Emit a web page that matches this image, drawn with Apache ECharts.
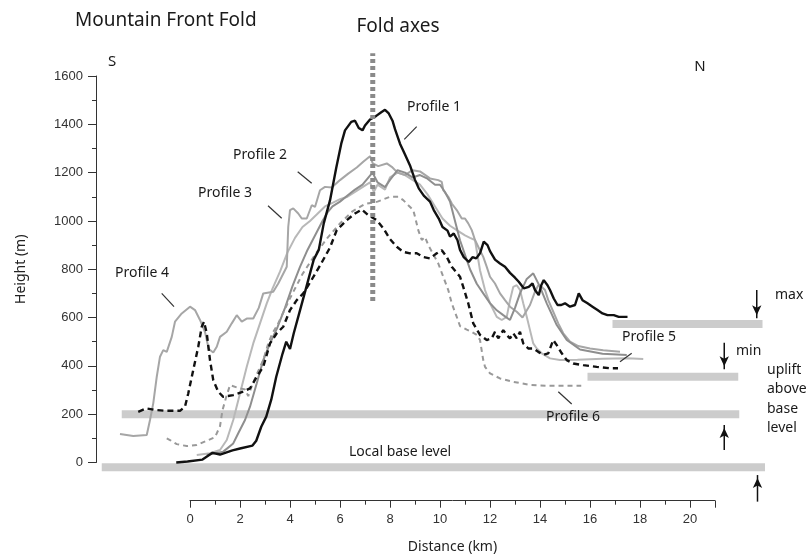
<!DOCTYPE html>
<html><head><meta charset="utf-8">
<script src="https://cdn.jsdelivr.net/npm/echarts@6/dist/echarts.min.js"></script>
<style>html,body{margin:0;padding:0;background:#fff}#c{width:806px;height:556px}</style>
</head><body><div id="c"></div>
<script>
// ---- data: [distance km, height m] ----
const profile1 = [[-0.55,0],[-0.1,4],[0.5,12],[0.9,40],[1.2,33],[1.7,50],[2.0,58],[2.5,70],[2.65,90],[2.85,148],[3.05,190],[3.25,260],[3.45,355],[3.7,450],[3.85,500],[4.0,470],[4.15,535],[4.4,630],[4.65,725],[4.95,840],[5.15,880],[5.35,990],[5.6,1085],[5.85,1220],[6.05,1320],[6.2,1375],[6.45,1410],[6.6,1415],[6.75,1385],[6.9,1375],[7.0,1395],[7.2,1420],[7.45,1435],[7.65,1450],[7.8,1460],[7.95,1445],[8.1,1415],[8.2,1380],[8.4,1320],[8.6,1275],[8.8,1230],[9.0,1170],[9.15,1135],[9.35,1105],[9.6,1080],[9.75,1045],[9.95,1010],[10.1,975],[10.3,960],[10.4,935],[10.55,948],[10.7,920],[10.8,880],[10.95,850],[11.15,830],[11.3,850],[11.45,845],[11.6,866],[11.75,914],[11.9,900],[12.0,875],[12.2,840],[12.4,824],[12.6,810],[12.8,785],[13.0,765],[13.15,748],[13.35,721],[13.55,727],[13.7,741],[13.8,714],[13.95,693],[14.05,734],[14.15,755],[14.3,734],[14.4,714],[14.55,679],[14.7,652],[14.85,652],[15.0,659],[15.2,645],[15.4,652],[15.55,700],[15.7,672],[15.9,659],[16.1,645],[16.3,631],[16.5,617],[16.7,610],[16.95,610],[17.15,603],[17.5,603]];
const profile2 = [[0.67,31],[1.33,45],[1.73,79],[1.93,121],[2.2,176],[2.4,231],[2.67,328],[2.93,424],[3.2,493],[3.5,560],[3.8,640],[4.1,730],[4.4,810],[4.7,880],[5.0,940],[5.3,1000],[5.5,1035],[5.7,1060],[6.0,1080],[6.3,1105],[6.6,1130],[6.9,1150],[7.1,1175],[7.3,1200],[7.5,1160],[7.8,1140],[8.0,1170],[8.3,1210],[8.6,1200],[8.9,1180],[9.2,1190],[9.5,1175],[9.8,1150],[10.0,1150],[10.2,1120],[10.4,1080],[10.6,1000],[10.8,920],[11.0,860],[11.2,800],[11.47,740],[11.73,700],[12.0,660],[12.27,630],[12.53,610],[12.8,590],[13.0,640],[13.2,700],[13.47,760],[13.73,783],[14.0,727],[14.27,659],[14.67,569],[15.07,507],[15.6,468],[16.5,450],[17.47,445]];
const profile3 = [[0.27,31],[0.8,38],[1.2,52],[1.47,93],[1.73,176],[2.0,286],[2.27,396],[2.53,493],[2.8,576],[3.07,659],[3.3,720],[3.6,790],[3.9,870],[4.2,930],[4.5,975],[4.8,1000],[5.1,1030],[5.4,1060],[5.7,1075],[6.0,1090],[6.3,1100],[6.6,1120],[6.9,1140],[7.2,1160],[7.35,1120],[7.5,1150],[7.8,1130],[8.0,1180],[8.3,1200],[8.6,1190],[8.9,1170],[9.2,1150],[9.5,1110],[9.8,1060],[10.1,1010],[10.4,980],[10.7,960],[11.0,940],[11.2,930],[11.4,921],[11.6,796],[11.8,714],[12.0,659],[12.27,603],[12.47,590],[12.67,603],[12.8,672],[12.93,727],[13.07,734],[13.2,714],[13.33,659],[13.47,603],[13.6,548],[13.73,493],[13.87,472],[14.07,452],[14.4,431],[14.8,424],[15.07,424],[15.5,425],[16.5,430],[17.5,432],[18.13,428]];
const profile4 = [[-2.8,118],[-2.27,110],[-1.73,114],[-1.6,176],[-1.47,245],[-1.33,355],[-1.2,438],[-1.07,465],[-0.93,458],[-0.73,520],[-0.6,583],[-0.33,617],[0,645],[0.2,631],[0.4,590],[0.6,540],[0.75,470],[0.93,455],[1.07,479],[1.2,520],[1.47,541],[1.67,576],[1.87,610],[2.07,583],[2.27,596],[2.53,596],[2.75,640],[2.93,700],[3.33,707],[3.53,741],[3.8,796],[3.87,810],[3.93,976],[4.0,1045],[4.13,1052],[4.33,1031],[4.47,1010],[4.67,1010],[4.87,1065],[5.0,1058],[5.2,1127],[5.4,1141],[5.67,1138],[6.0,1169],[6.33,1196],[6.67,1221],[6.93,1245],[7.2,1268],[7.31,1238],[7.53,1227],[7.87,1238],[8.07,1224],[8.3,1200],[8.6,1190],[8.9,1210],[9.2,1205],[9.6,1176],[9.93,1169],[10.07,1162],[10.13,1127],[10.33,1100],[10.47,1072],[10.67,1045],[10.87,1010],[11.0,1010],[11.13,990],[11.27,962],[11.4,921],[11.53,893],[11.73,851],[11.87,810],[12.0,769],[12.2,741],[12.4,700],[12.6,672],[12.8,645],[13.07,624],[13.3,600],[13.6,652],[13.8,707],[13.93,734],[14.07,727],[14.2,714],[14.33,672],[14.53,624],[14.73,576],[14.93,535],[15.2,500],[15.53,482],[16.0,472],[16.53,465],[17.2,458]];
const profile5 = [[-2.07,210],[-1.75,224],[-1.35,217],[-0.95,214],[-0.4,214],[-0.2,231],[-0.07,286],[0.13,383],[0.33,479],[0.47,562],[0.56,583],[0.67,535],[0.8,424],[0.93,341],[1.13,293],[1.33,272],[1.73,279],[2.13,293],[2.4,307],[2.67,355],[2.93,396],[3.2,493],[3.47,535],[3.73,562],[4.0,631],[4.27,672],[4.53,700],[4.8,745],[5.2,815],[5.6,890],[5.87,962],[6.27,1003],[6.6,1031],[6.87,1047],[7.13,1024],[7.47,1003],[7.73,970],[8.0,925],[8.27,893],[8.53,872],[8.8,866],[9.07,866],[9.33,851],[9.6,845],[9.87,866],[10.07,879],[10.27,851],[10.47,810],[10.8,769],[10.93,727],[11.13,659],[11.33,576],[11.6,528],[11.87,507],[12.07,514],[12.2,541],[12.33,514],[12.53,548],[12.67,528],[12.8,514],[12.93,535],[13.07,514],[13.2,541],[13.33,493],[13.53,472],[13.73,472],[13.93,458],[14.13,445],[14.33,452],[14.53,507],[14.67,486],[14.87,452],[15.07,424],[15.33,410],[15.73,403],[16.27,396],[16.8,390],[17.12,390]];
const profile6 = [[-0.93,100],[-0.8,93],[-0.53,76],[-0.13,68],[0.27,72],[0.67,90],[1.0,105],[1.2,150],[1.3,217],[1.45,272],[1.6,320],[1.9,310],[2.2,302],[2.33,275],[2.45,310],[2.67,365],[2.93,424],[3.13,493],[3.3,535],[3.5,570],[4.0,680],[4.5,780],[5.0,860],[5.5,930],[6.0,990],[6.5,1040],[7.0,1070],[7.5,1080],[8.0,1100],[8.33,1100],[8.53,1086],[8.73,1065],[8.93,1045],[9.0,1017],[9.13,962],[9.27,921],[9.4,934],[9.53,900],[9.93,824],[10.13,769],[10.33,714],[10.47,659],[10.67,603],[10.8,565],[11.07,550],[11.27,541],[11.47,528],[11.6,507],[11.73,424],[11.8,396],[12.0,369],[12.4,348],[12.93,334],[13.6,321],[14.27,318],[15.07,318],[15.65,318]];
const foldAxis = [[7.31,669],[7.31,1694]];
const baseLevelBar = [[-3.53,-20],[23.0,-20]];
const bar200 = [[-2.73,200],[21.97,200]];
const minBar = [[15.9,355],[21.93,355]];
const maxBar = [[16.9,573],[22.9,573]];
// arrows: [start, end] (head at end)
const arrows = [ [[22.67,714],[22.67,597]], [[21.37,496],[21.37,386]], [[21.37,52],[21.37,155]], [[22.7,-162],[22.7,-52]] ];
const yTicks = {min:0, max:1600, interval:200};
const xTicks = {min:0, max:21, interval:2};

const chart = echarts.init(document.getElementById('c'), null, {renderer:'canvas'});
const lbl = 'Noto Sans, DejaVu Sans, sans-serif';
function prof(name, data, color, width, type, z){
  return {name, type:'line', data, xAxisIndex:0, yAxisIndex:0, symbol:'none', showSymbol:false, clip:false,
    lineStyle:{color, width, type}, z: z||3, silent:true};
}
function bar(data){
  return {type:'line', data, xAxisIndex:0, yAxisIndex:0, symbol:'none', clip:false, silent:true,
    lineStyle:{color:'#cccccc', width:8, cap:'butt'}, z:1};
}
function arrow(a){
  const down = a[1][1] < a[0][1];
  return {type:'line', xAxisIndex:0, yAxisIndex:0, clip:false, silent:true, z:9,
    symbol:'none', showSymbol:true, showAllSymbol:true,
    lineStyle:{color:'#111', width:1.5}, itemStyle:{color:'#111'},
    data:[{value:a[0], symbol:'none'},
          {value:a[1], symbol:'arrow', symbolSize:[7,10], symbolRotate: down ? 180 : 0, symbolOffset:[0, down ? '-30%' : '30%']}]};
}
const option = {
  animation:false,
  backgroundColor:'#fff',
  grid:[
    {left:96, right:16, top:76, bottom:93.5},
    {left:190, width:525, top:450, bottom:55.3}
  ],
  xAxis:[
    {type:'value', gridIndex:0, min:-3.76, max:24, show:false},
    {type:'value', gridIndex:1, min:xTicks.min, max:xTicks.max, interval:xTicks.interval,
      axisLine:{show:true, onZero:false, lineStyle:{color:'#333', width:1}},
      axisTick:{show:true, length:7, lineStyle:{color:'#333'}},
      minorTick:{show:true, splitNumber:2, length:4, lineStyle:{color:'#333'}},
      splitLine:{show:false},
      axisLabel:{fontSize:13, color:'#333', margin:12, showMaxLabel:false, formatter:v=>String(v), fontFamily:'Liberation Sans, Arial, sans-serif'},
      name:'Distance (km)', nameLocation:'middle', nameGap:39,
      nameTextStyle:{fontSize:14, color:'#222', fontFamily:lbl}}
  ],
  yAxis:[
    {type:'value', gridIndex:0, min:yTicks.min, max:yTicks.max, interval:yTicks.interval,
      axisLine:{show:true, onZero:false, lineStyle:{color:'#333', width:1}},
      axisTick:{show:true, length:8, lineStyle:{color:'#333'}},
      minorTick:{show:true, splitNumber:2, length:4, lineStyle:{color:'#333'}},
      splitLine:{show:false},
      axisLabel:{fontSize:13, color:'#333', margin:13, formatter:v=>String(v), fontFamily:'Liberation Sans, Arial, sans-serif'},
      name:'Height (m)', nameLocation:'middle', nameGap:68, nameRotate:90,
      nameTextStyle:{fontSize:14, color:'#222', fontFamily:lbl}},
    {type:'value', gridIndex:1, show:false, min:0, max:1}
  ],
  series:[
    bar(baseLevelBar), bar(bar200), bar(minBar), bar(maxBar),
    prof('Profile 3', profile3, '#b8b8b8', 2, 'solid', 3),
    prof('Profile 4', profile4, '#a6a6a6', 2, 'solid', 3),
    prof('Profile 2', profile2, '#8e8e8e', 2, 'solid', 4),
    prof('Profile 6', profile6, '#999999', 2, [5,4], 4),
    prof('Profile 5', profile5, '#111111', 2.4, [6,4], 5),
    prof('Profile 1', profile1, '#111111', 2.4, 'solid', 6),
    {type:'line', data:foldAxis, symbol:'none', clip:false, silent:true, z:8,
      lineStyle:{color:'#8a8a8a', width:5, type:[4,3], cap:'butt'}}
  ].concat(arrows.map(arrow))
};
chart.setOption(option);

// text annotations
const T = (text, x, y, size, align) => ({type:'text', x, y, silent:true, z:100,
  style:{text, fill:'#1a1a1a', font: size+'px '+lbl, align: align||'left', verticalAlign:'middle'}});
const L = (x1,y1,x2,y2) => ({type:'line', silent:true, z:100, shape:{x1,y1,x2,y2}, style:{stroke:'#333', lineWidth:1.2}});
chart.setOption({graphic:[
  T('Mountain Front Fold', 75, 21, 19),
  T('Fold axes', 398, 27, 19, 'center'),
  T('S', 112, 62, 15, 'center'),
  T('N', 700, 67, 15, 'center'),
  T('Profile 1', 407, 107, 14), L(416.7,126.7,404.3,139.3),
  T('Profile 2', 233, 155, 14), L(297.7,171.7,311.7,183.3),
  T('Profile 3', 198, 193, 14), L(268,205.7,281.7,218.3),
  T('Profile 4', 115, 273, 14), L(161.7,293.3,174,306.7),
  T('Profile 5', 622, 337, 14), L(631.7,353.3,620,361.7),
  T('Profile 6', 546, 417, 14), L(558.3,391.7,571.7,404),
  T('Local base level', 349, 452, 14),
  T('max', 775, 295, 14),
  T('min', 736, 351, 14),
  T('uplift', 767, 370, 14),
  T('above', 767, 389, 14),
  T('base', 767, 409, 14),
  T('level', 767, 428, 14)
]});
</script></body></html>
